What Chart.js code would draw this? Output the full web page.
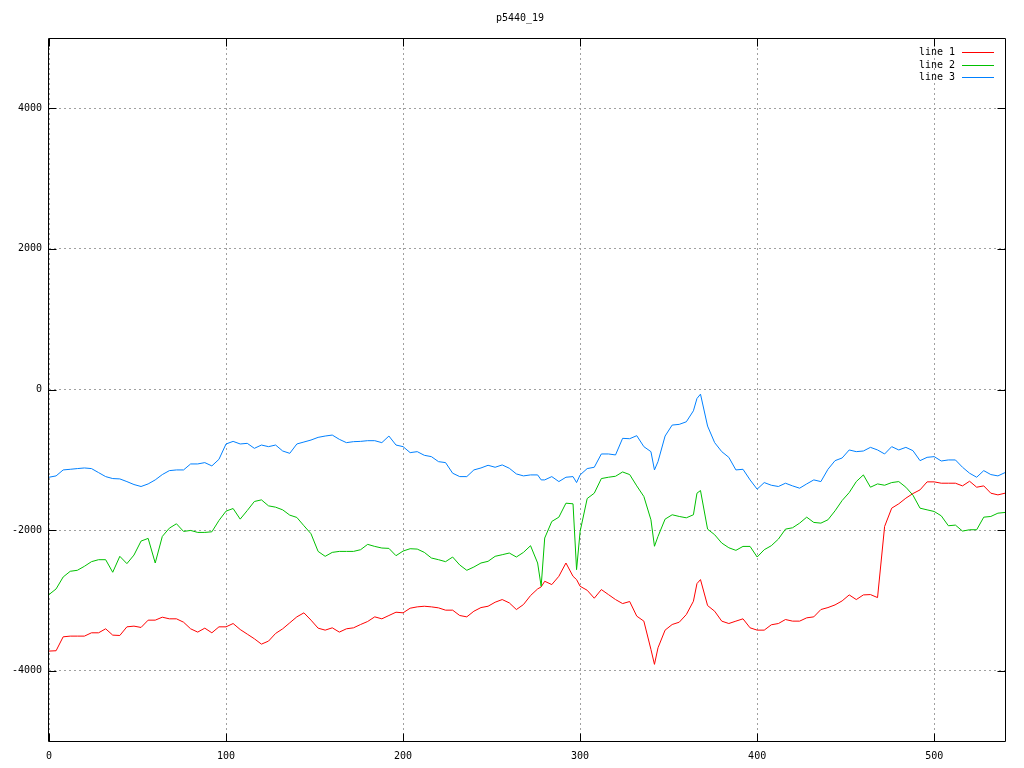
<!DOCTYPE html>
<html>
<head>
<meta charset="utf-8">
<title>p5440_19</title>
<script src="https://cdn.jsdelivr.net/npm/chart.js@4.4.0/dist/chart.umd.min.js"></script>
<style>
  body { margin: 0; background: #fff; }
  #wrap { width: 1024px; height: 768px; }
</style>
</head>
<body>
<div id="wrap"><canvas id="myChart" width="1024" height="768"></canvas></div>
<script>
// chart data
const titleText = 'p5440_19';
const seriesNames = ['line 1', 'line 2', 'line 3'];
const seriesColors = ['#ff0000', '#00c000', '#0080ff'];
const xTicks = [0, 100, 200, 300, 400, 500];
const yTicks = [-4000, -2000, 0, 2000, 4000];

const xs = [0, 4, 8, 12, 16, 20, 24, 28, 32, 36, 40, 44, 48, 52, 56, 60, 64, 68, 72, 76,
  80, 84, 88, 92, 96, 100, 104, 108, 112, 116, 120, 124, 128, 132, 136, 140, 144, 148, 152, 156,
  160, 164, 168, 172, 176, 180, 184, 188, 192, 196, 200, 204, 208, 212, 216, 220, 224, 228, 232, 236,
  240, 244, 248, 252, 256, 260, 264, 268, 272, 276, 278, 280, 284, 288, 292, 296, 298, 300, 304, 308,
  312, 316, 320, 324, 328, 332, 336, 340, 342, 344, 348, 352, 356, 360, 364, 366, 368, 372, 376, 380,
  384, 388, 392, 396, 400, 404, 408, 412, 416, 420, 424, 428, 432, 436, 440, 444, 448, 452, 456, 460,
  464, 468, 472, 476, 480, 484, 488, 492, 496, 500, 504, 508, 512, 516, 520, 524, 528, 532, 536, 540];

// line 1 (red)
const line1 = [-3721, -3716, -3518, -3508, -3508, -3508, -3461, -3461, -3404, -3494, -3499, -3376, -3366, -3385, -3281, -3281, -3239, -3262, -3262, -3310,
  -3404, -3451, -3395, -3461, -3376, -3376, -3329, -3414, -3480, -3546, -3622, -3579, -3470, -3404, -3319, -3234, -3177, -3281, -3395, -3423,
  -3390, -3451, -3404, -3390, -3343, -3300, -3234, -3262, -3215, -3168, -3177, -3111, -3092, -3083, -3092, -3106, -3139, -3139, -3215, -3234,
  -3154, -3102, -3083, -3026, -2988, -3035, -3130, -3059, -2931, -2837, -2808, -2728, -2775, -2657, -2468, -2657, -2704, -2799, -2856, -2969,
  -2846, -2917, -2988, -3045, -3016, -3224, -3295, -3697, -3910, -3674, -3423, -3343, -3310, -3201, -3012, -2761, -2704, -3073, -3154, -3295,
  -3329, -3295, -3262, -3390, -3423, -3423, -3347, -3329, -3272, -3295, -3295, -3248, -3234, -3130, -3102, -3064, -3007, -2922, -2988, -2922,
  -2917, -2960, -1948, -1688, -1626, -1546, -1480, -1428, -1314, -1314, -1333, -1333, -1333, -1371, -1305, -1390, -1371, -1475, -1499, -1475];

// line 2 (green)
const line2 = [-2917, -2837, -2667, -2586, -2572, -2515, -2449, -2421, -2421, -2600, -2373, -2477, -2355, -2156, -2118, -2468, -2090, -1972, -1910, -2019,
  -2005, -2033, -2033, -2024, -1863, -1730, -1693, -1844, -1721, -1593, -1570, -1655, -1674, -1712, -1787, -1820, -1938, -2052, -2303, -2373,
  -2317, -2303, -2303, -2303, -2279, -2203, -2232, -2255, -2260, -2364, -2298, -2265, -2270, -2317, -2397, -2421, -2449, -2383, -2496, -2572,
  -2525, -2468, -2444, -2373, -2350, -2326, -2383, -2317, -2222, -2468, -2799, -2113, -1877, -1816, -1617, -1626, -2563, -2019, -1551, -1475,
  -1267, -1248, -1234, -1173, -1210, -1371, -1522, -1853, -2230, -2090, -1844, -1782, -1806, -1825, -1782, -1475, -1437, -1986, -2066, -2184,
  -2251, -2288, -2232, -2232, -2383, -2279, -2222, -2128, -1986, -1967, -1901, -1816, -1891, -1901, -1853, -1726, -1579, -1466, -1310, -1215,
  -1390, -1343, -1362, -1324, -1310, -1390, -1503, -1688, -1712, -1735, -1797, -1938, -1929, -2014, -1995, -1995, -1816, -1806, -1759, -1749];

// line 3 (blue)
const line3 = [-1248, -1229, -1144, -1135, -1125, -1116, -1125, -1182, -1239, -1267, -1272, -1310, -1352, -1380, -1343, -1286, -1210, -1154, -1144, -1144,
  -1059, -1059, -1040, -1087, -993, -775, -738, -775, -766, -837, -790, -813, -790, -875, -908, -775, -747, -719, -681, -662,
  -648, -709, -756, -742, -738, -728, -728, -756, -662, -790, -813, -898, -884, -936, -955, -1026, -1040, -1191, -1239, -1239,
  -1144, -1116, -1078, -1106, -1073, -1120, -1201, -1229, -1215, -1215, -1286, -1286, -1239, -1310, -1248, -1239, -1324, -1215, -1125, -1106,
  -917, -917, -931, -695, -700, -657, -813, -884, -1144, -1026, -662, -506, -496, -459, -303, -128, -66, -520, -756, -884,
  -965, -1144, -1135, -1286, -1418, -1324, -1362, -1380, -1333, -1371, -1404, -1343, -1286, -1310, -1135, -1012, -974, -860, -884, -875,
  -823, -860, -917, -813, -860, -823, -870, -1012, -965, -955, -1017, -1002, -1002, -1106, -1191, -1248, -1154, -1210, -1229, -1182];

const fontFamily = '"DejaVu Sans Mono", monospace';

function toPoints(ys) {
    return xs.map(function (x, i) { return { x: x, y: ys[i] }; });
}

// border, inward ticks, key and title the way gnuplot draws them
const gnuplotFrame = {
    id: 'gnuplotFrame',
    afterDraw: function (chart) {
        const ctx = chart.ctx;
        const a = chart.chartArea;
        const sx = chart.scales.x;
        const sy = chart.scales.y;
        const L = Math.round(a.left) - 0.5, R = Math.round(a.right) + 0.5;
        const T = Math.round(a.top) + 0.5, B = Math.round(a.bottom) + 0.5;
        ctx.save();
        ctx.strokeStyle = '#000';
        ctx.lineWidth = 1;
        ctx.beginPath();
        xTicks.forEach(function (v) {
            const px = Math.round(sx.getPixelForValue(v)) + 0.5;
            ctx.moveTo(px, B); ctx.lineTo(px, B - 8);
            ctx.moveTo(px, T); ctx.lineTo(px, T + 8);
        });
        yTicks.forEach(function (v) {
            const py = Math.round(sy.getPixelForValue(v)) + 0.5;
            ctx.moveTo(L, py); ctx.lineTo(L + 8, py);
            ctx.moveTo(R, py); ctx.lineTo(R - 8, py);
        });
        ctx.rect(L, T, R - L, B - T);
        ctx.stroke();

        // key
        ctx.font = '10px ' + fontFamily;
        ctx.fillStyle = '#000';
        ctx.textAlign = 'right';
        ctx.textBaseline = 'middle';
        chart.data.datasets.forEach(function (ds, i) {
            const y = Math.round(a.top + 14 + i * 12.5) + 0.5;
            ctx.fillText(ds.label, a.right - 50, y);
            ctx.strokeStyle = ds.borderColor;
            ctx.beginPath();
            ctx.moveTo(a.right - 43, y);
            ctx.lineTo(a.right - 11, y);
            ctx.stroke();
        });

        // title
        ctx.textAlign = 'center';
        ctx.fillText(titleText, (a.left + a.right) / 2 - 7, 18);
        ctx.restore();
    }
};

var ctx = document.getElementById('myChart');
var chart = new Chart(ctx, {
    type: 'line',
    data: {
        datasets: [
            { label: seriesNames[0], data: toPoints(line1), borderColor: seriesColors[0], order: 3 },
            { label: seriesNames[1], data: toPoints(line2), borderColor: seriesColors[1], order: 2 },
            { label: seriesNames[2], data: toPoints(line3), borderColor: seriesColors[2], order: 1 }
        ]
    },
    options: {
        responsive: false,
        animation: false,
        devicePixelRatio: 1,
        layout: { padding: { top: 38, right: 19, left: 0, bottom: 0 } },
        elements: {
            line: { borderWidth: 1, tension: 0, fill: false },
            point: { radius: 0, hoverRadius: 0 }
        },
        plugins: {
            legend: { display: false },
            title: { display: false },
            tooltip: { enabled: false }
        },
        scales: {
            x: {
                type: 'linear',
                min: 0,
                max: 540,
                afterBuildTicks: function (s) { s.ticks = xTicks.map(function (v) { return { value: v }; }); },
                afterFit: function (s) { s.height = 27; },
                grid: { color: '#a0a0a0', lineWidth: 1, drawTicks: false, borderDash: [2, 3] },
                border: { display: false, dash: [2, 3] },
                ticks: {
                    padding: 9,
                    color: '#000',
                    font: { family: fontFamily, size: 10 },
                    maxRotation: 0,
                    autoSkip: false,
                    callback: function (v) { return String(v); }
                }
            },
            y: {
                type: 'linear',
                min: -5000,
                max: 5000,
                afterBuildTicks: function (s) { s.ticks = yTicks.map(function (v) { return { value: v }; }); },
                afterFit: function (s) { s.width = 49; },
                grid: { color: '#a0a0a0', lineWidth: 1, drawTicks: false, borderDash: [2, 3] },
                border: { display: false, dash: [2, 3] },
                ticks: {
                    padding: 7,
                    color: '#000',
                    font: { family: fontFamily, size: 10 },
                    autoSkip: false,
                    callback: function (v) { return String(v); }
                }
            }
        }
    },
    plugins: [gnuplotFrame]
});
</script>
</body>
</html>
